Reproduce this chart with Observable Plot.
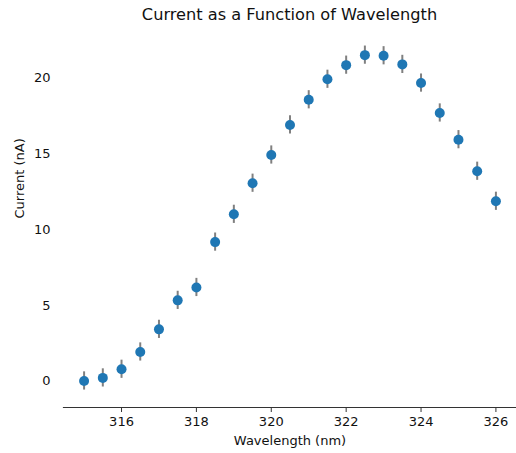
<!DOCTYPE html>
<html>
<head>
<meta charset="utf-8">
<script src="https://cdn.jsdelivr.net/npm/d3@7"></script>
<script src="https://cdn.jsdelivr.net/npm/@observablehq/plot@0.6"></script>
<style>
  html, body { margin: 0; padding: 0; background: #fff; }
  #title { width: 453px; margin-left: 63px; height: 28px; line-height: 29px; text-align: center;
           font-family: "DejaVu Sans", sans-serif; font-size: 16.2px; color: #111; }
</style>
</head>
<body>
<div id="title">Current as a Function of Wavelength</div>
<div id="chart"></div>
<script>
const wavelengths = [315, 315.5, 316, 316.5, 317, 317.5, 318, 318.5, 319, 319.5, 320, 320.5,
                     321, 321.5, 322, 322.5, 323, 323.5, 324, 324.5, 325, 325.5, 326];
const currents = [0.02, 0.22, 0.79, 1.93, 3.42, 5.33, 6.18, 9.17, 11.0, 13.05, 14.91, 16.89,
                  18.55, 19.9, 20.83, 21.49, 21.45, 20.88, 19.65, 17.68, 15.92, 13.84, 11.86];
const errors = [0.6, 0.6, 0.6, 0.6, 0.6, 0.6, 0.6, 0.6, 0.6, 0.6, 0.6, 0.6,
                0.6, 0.6, 0.6, 0.6, 0.6, 0.6, 0.6, 0.6, 0.6, 0.6, 0.6];
const xTicks = [316, 318, 320, 322, 324, 326];
const yTicks = [0, 5, 10, 15, 20];
const xLabel = "Wavelength (nm)";
const yLabel = "Current (nA)";

const data = wavelengths.map((w, i) => ({w, c: currents[i], e: errors[i]}));

const chart = Plot.plot({
  width: 516,
  height: 425,
  marginTop: 1,
  marginBottom: 46,
  marginLeft: 63,
  marginRight: 0,
  style: {fontFamily: "DejaVu Sans, sans-serif", fontSize: "13px", color: "#111", background: "#fff"},
  x: {domain: [314.45, 326.55]},
  y: {domain: [-1.73, 23.18]},
  marks: [
    Plot.frame({anchor: "bottom", stroke: "#333", strokeWidth: 1.2}),
    Plot.axisX({ticks: xTicks, tickSize: 5, tickPadding: 4, label: null, stroke: "#333", tickFormat: d => String(d)}),
    Plot.axisY({ticks: yTicks, tickSize: 0, tickPadding: 13, label: null, tickFormat: d => String(d)}),
    Plot.text([xLabel], {frameAnchor: "bottom", dy: 37, text: d => d, fontSize: 13, fill: "#111"}),
    Plot.text([yLabel], {frameAnchor: "left", dx: -44, rotate: -90, text: d => d, fontSize: 13, fill: "#111"}),
    Plot.ruleX(data, {x: "w", y1: d => d.c - d.e, y2: d => d.c + d.e, stroke: "#808080", strokeWidth: 2}),
    Plot.dot(data, {x: "w", y: "c", r: 5, fill: "#1f77b4", stroke: "none"})
  ]
});
document.getElementById("chart").appendChild(chart);
</script>
</body>
</html>
